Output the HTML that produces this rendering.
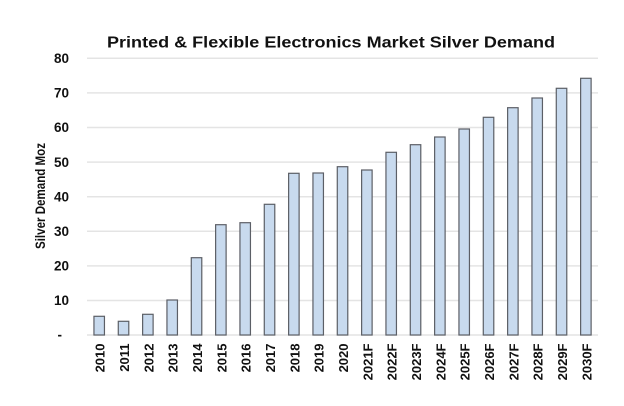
<!DOCTYPE html>
<html><head><meta charset="utf-8"><style>
html,body{margin:0;padding:0;background:#fff;}
svg{display:block;}
text{font-family:"Liberation Sans",sans-serif;fill:#111;}
</style></head><body>
<svg width="624" height="406" viewBox="0 0 624 406" xmlns="http://www.w3.org/2000/svg">
<rect width="624" height="406" fill="#fff"/>
<text x="331" y="47.5" font-size="16" font-weight="bold" text-anchor="middle" textLength="448" lengthAdjust="spacingAndGlyphs">Printed &amp; Flexible Electronics Market  Silver Demand</text>
<g stroke="#e4e4e4" stroke-width="1.5">
<line x1="87" x2="598" y1="58.3" y2="58.3"/>
<line x1="87" x2="598" y1="92.9" y2="92.9"/>
<line x1="87" x2="598" y1="127.5" y2="127.5"/>
<line x1="87" x2="598" y1="162.1" y2="162.1"/>
<line x1="87" x2="598" y1="196.7" y2="196.7"/>
<line x1="87" x2="598" y1="231.3" y2="231.3"/>
<line x1="87" x2="598" y1="265.9" y2="265.9"/>
<line x1="87" x2="598" y1="300.5" y2="300.5"/>
<line x1="87" x2="598" y1="335" y2="335"/>
</g>
<g font-size="13.5" font-weight="bold" text-anchor="end">
<text x="69" y="63">80</text>
<text x="69" y="97.6">70</text>
<text x="69" y="132.2">60</text>
<text x="69" y="166.8">50</text>
<text x="69" y="201.4">40</text>
<text x="69" y="236">30</text>
<text x="69" y="270.6">20</text>
<text x="69" y="305.2">10</text>
<text x="62" y="339.5">-</text>
</g>
<text transform="translate(45,196) rotate(-90)" font-size="13.5" font-weight="bold" text-anchor="middle" textLength="106" lengthAdjust="spacingAndGlyphs">Silver Demand Moz</text>
<g fill="#c8daee" stroke="#5c5f66" stroke-width="1.2">
<rect x="93.95" y="316.3" width="10.5" height="18.7"/>
<rect x="118.28" y="321.3" width="10.5" height="13.7"/>
<rect x="142.62" y="314.3" width="10.5" height="20.7"/>
<rect x="166.95" y="300" width="10.5" height="35"/>
<rect x="191.28" y="257.7" width="10.5" height="77.3"/>
<rect x="215.62" y="224.7" width="10.5" height="110.3"/>
<rect x="239.95" y="222.7" width="10.5" height="112.3"/>
<rect x="264.28" y="204.3" width="10.5" height="130.7"/>
<rect x="288.62" y="173.3" width="10.5" height="161.7"/>
<rect x="312.95" y="173" width="10.5" height="162"/>
<rect x="337.28" y="166.7" width="10.5" height="168.3"/>
<rect x="361.62" y="170" width="10.5" height="165"/>
<rect x="385.95" y="152.3" width="10.5" height="182.7"/>
<rect x="410.28" y="144.7" width="10.5" height="190.3"/>
<rect x="434.62" y="137" width="10.5" height="198"/>
<rect x="458.95" y="129" width="10.5" height="206"/>
<rect x="483.28" y="117.3" width="10.5" height="217.7"/>
<rect x="507.62" y="107.7" width="10.5" height="227.3"/>
<rect x="531.95" y="98" width="10.5" height="237"/>
<rect x="556.28" y="88.3" width="10.5" height="246.7"/>
<rect x="580.62" y="78.3" width="10.5" height="256.7"/>
</g>
<g font-size="13" font-weight="bold" text-anchor="end">
<text transform="translate(104.7,343.5) rotate(-90)">2010</text>
<text transform="translate(129.03,343.5) rotate(-90)">2011</text>
<text transform="translate(153.37,343.5) rotate(-90)">2012</text>
<text transform="translate(177.7,343.5) rotate(-90)">2013</text>
<text transform="translate(202.03,343.5) rotate(-90)">2014</text>
<text transform="translate(226.37,343.5) rotate(-90)">2015</text>
<text transform="translate(250.7,343.5) rotate(-90)">2016</text>
<text transform="translate(275.03,343.5) rotate(-90)">2017</text>
<text transform="translate(299.37,343.5) rotate(-90)">2018</text>
<text transform="translate(323.7,343.5) rotate(-90)">2019</text>
<text transform="translate(348.03,343.5) rotate(-90)">2020</text>
<text transform="translate(372.37,343.5) rotate(-90)">2021F</text>
<text transform="translate(396.7,343.5) rotate(-90)">2022F</text>
<text transform="translate(421.03,343.5) rotate(-90)">2023F</text>
<text transform="translate(445.37,343.5) rotate(-90)">2024F</text>
<text transform="translate(469.7,343.5) rotate(-90)">2025F</text>
<text transform="translate(494.03,343.5) rotate(-90)">2026F</text>
<text transform="translate(518.37,343.5) rotate(-90)">2027F</text>
<text transform="translate(542.7,343.5) rotate(-90)">2028F</text>
<text transform="translate(567.03,343.5) rotate(-90)">2029F</text>
<text transform="translate(591.37,343.5) rotate(-90)">2030F</text>
</g>
</svg>
</body></html>
